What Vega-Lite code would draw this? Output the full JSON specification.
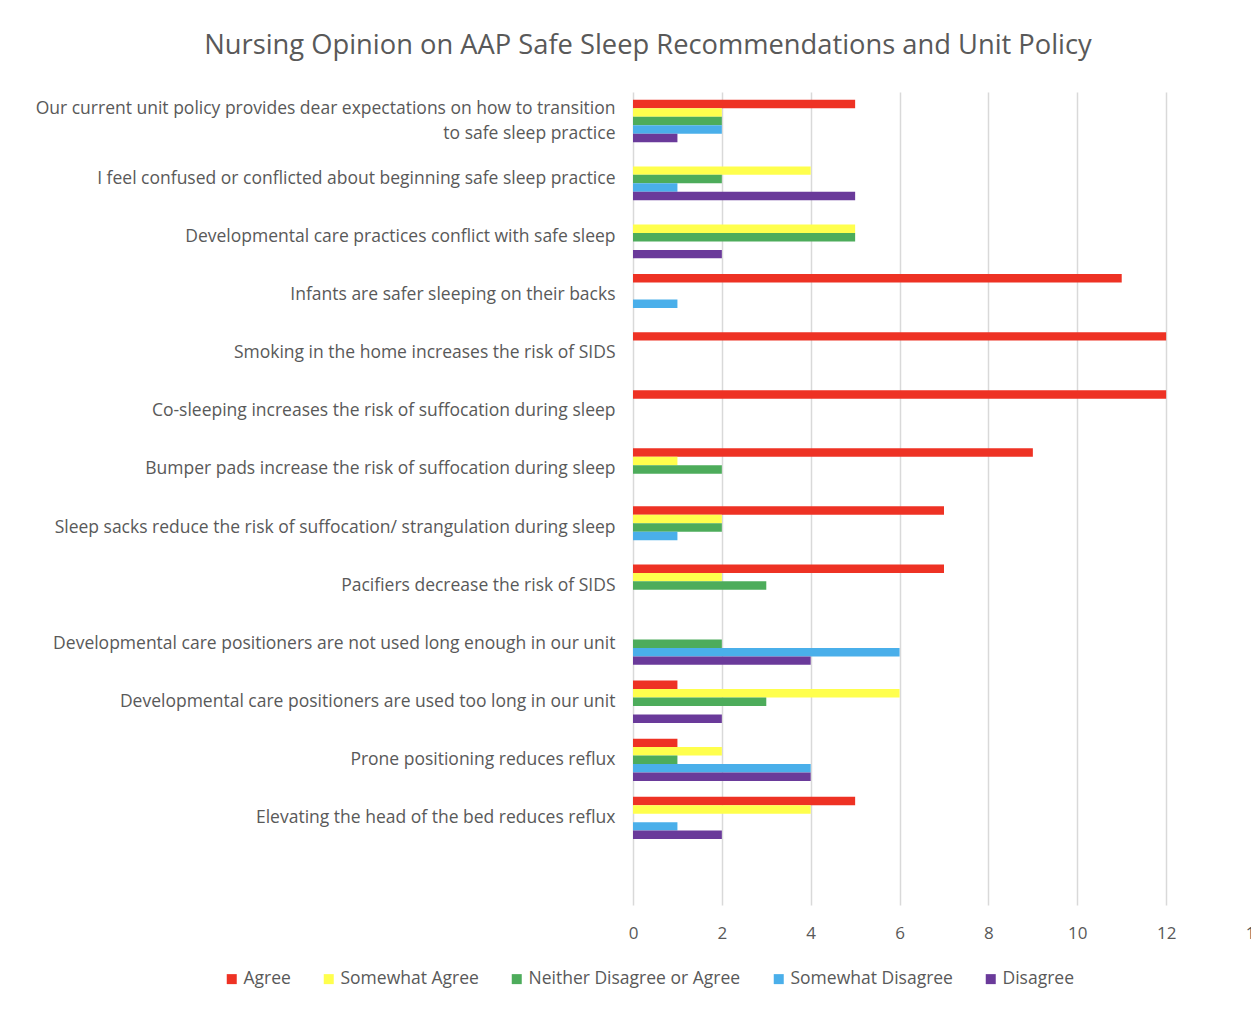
{
  "$schema": "https://vega.github.io/schema/vega-lite/v6.json",
  "autosize": "none",
  "width": 622,
  "height": 813,
  "padding": {"left": 633, "top": 92, "right": 0, "bottom": 104},
  "background": "white",
  "config": {
    "font": "Open Sans",
    "view": {"stroke": null}
  },
  "title": {
    "text": "Nursing Opinion on AAP Safe Sleep Recommendations and Unit Policy",
    "anchor": "middle",
    "frame": "group",
    "dx": -296,
    "offset": 33,
    "fontSize": 27.3,
    "fontWeight": "normal",
    "color": "#595959",
    "font": "Open Sans"
  },
  "data": {
    "values": [
      {"q": "Our current unit policy provides dear expectations on how to transition to safe sleep practice", "r": "Agree", "n": 5},
      {"q": "Our current unit policy provides dear expectations on how to transition to safe sleep practice", "r": "Somewhat Agree", "n": 2},
      {"q": "Our current unit policy provides dear expectations on how to transition to safe sleep practice", "r": "Neither Disagree or Agree", "n": 2},
      {"q": "Our current unit policy provides dear expectations on how to transition to safe sleep practice", "r": "Somewhat Disagree", "n": 2},
      {"q": "Our current unit policy provides dear expectations on how to transition to safe sleep practice", "r": "Disagree", "n": 1},
      {"q": "I feel confused or conflicted about beginning safe sleep practice", "r": "Agree", "n": 0},
      {"q": "I feel confused or conflicted about beginning safe sleep practice", "r": "Somewhat Agree", "n": 4},
      {"q": "I feel confused or conflicted about beginning safe sleep practice", "r": "Neither Disagree or Agree", "n": 2},
      {"q": "I feel confused or conflicted about beginning safe sleep practice", "r": "Somewhat Disagree", "n": 1},
      {"q": "I feel confused or conflicted about beginning safe sleep practice", "r": "Disagree", "n": 5},
      {"q": "Developmental care practices conflict with safe sleep", "r": "Agree", "n": 0},
      {"q": "Developmental care practices conflict with safe sleep", "r": "Somewhat Agree", "n": 5},
      {"q": "Developmental care practices conflict with safe sleep", "r": "Neither Disagree or Agree", "n": 5},
      {"q": "Developmental care practices conflict with safe sleep", "r": "Somewhat Disagree", "n": 0},
      {"q": "Developmental care practices conflict with safe sleep", "r": "Disagree", "n": 2},
      {"q": "Infants are safer sleeping on their backs", "r": "Agree", "n": 11},
      {"q": "Infants are safer sleeping on their backs", "r": "Somewhat Agree", "n": 0},
      {"q": "Infants are safer sleeping on their backs", "r": "Neither Disagree or Agree", "n": 0},
      {"q": "Infants are safer sleeping on their backs", "r": "Somewhat Disagree", "n": 1},
      {"q": "Infants are safer sleeping on their backs", "r": "Disagree", "n": 0},
      {"q": "Smoking in the home increases the risk of SIDS", "r": "Agree", "n": 12},
      {"q": "Smoking in the home increases the risk of SIDS", "r": "Somewhat Agree", "n": 0},
      {"q": "Smoking in the home increases the risk of SIDS", "r": "Neither Disagree or Agree", "n": 0},
      {"q": "Smoking in the home increases the risk of SIDS", "r": "Somewhat Disagree", "n": 0},
      {"q": "Smoking in the home increases the risk of SIDS", "r": "Disagree", "n": 0},
      {"q": "Co-sleeping increases the risk of suffocation during sleep", "r": "Agree", "n": 12},
      {"q": "Co-sleeping increases the risk of suffocation during sleep", "r": "Somewhat Agree", "n": 0},
      {"q": "Co-sleeping increases the risk of suffocation during sleep", "r": "Neither Disagree or Agree", "n": 0},
      {"q": "Co-sleeping increases the risk of suffocation during sleep", "r": "Somewhat Disagree", "n": 0},
      {"q": "Co-sleeping increases the risk of suffocation during sleep", "r": "Disagree", "n": 0},
      {"q": "Bumper pads increase the risk of suffocation during sleep", "r": "Agree", "n": 9},
      {"q": "Bumper pads increase the risk of suffocation during sleep", "r": "Somewhat Agree", "n": 1},
      {"q": "Bumper pads increase the risk of suffocation during sleep", "r": "Neither Disagree or Agree", "n": 2},
      {"q": "Bumper pads increase the risk of suffocation during sleep", "r": "Somewhat Disagree", "n": 0},
      {"q": "Bumper pads increase the risk of suffocation during sleep", "r": "Disagree", "n": 0},
      {"q": "Sleep sacks reduce the risk of suffocation/ strangulation during sleep", "r": "Agree", "n": 7},
      {"q": "Sleep sacks reduce the risk of suffocation/ strangulation during sleep", "r": "Somewhat Agree", "n": 2},
      {"q": "Sleep sacks reduce the risk of suffocation/ strangulation during sleep", "r": "Neither Disagree or Agree", "n": 2},
      {"q": "Sleep sacks reduce the risk of suffocation/ strangulation during sleep", "r": "Somewhat Disagree", "n": 1},
      {"q": "Sleep sacks reduce the risk of suffocation/ strangulation during sleep", "r": "Disagree", "n": 0},
      {"q": "Pacifiers decrease the risk of SIDS", "r": "Agree", "n": 7},
      {"q": "Pacifiers decrease the risk of SIDS", "r": "Somewhat Agree", "n": 2},
      {"q": "Pacifiers decrease the risk of SIDS", "r": "Neither Disagree or Agree", "n": 3},
      {"q": "Pacifiers decrease the risk of SIDS", "r": "Somewhat Disagree", "n": 0},
      {"q": "Pacifiers decrease the risk of SIDS", "r": "Disagree", "n": 0},
      {"q": "Developmental care positioners are not used long enough in our unit", "r": "Agree", "n": 0},
      {"q": "Developmental care positioners are not used long enough in our unit", "r": "Somewhat Agree", "n": 0},
      {"q": "Developmental care positioners are not used long enough in our unit", "r": "Neither Disagree or Agree", "n": 2},
      {"q": "Developmental care positioners are not used long enough in our unit", "r": "Somewhat Disagree", "n": 6},
      {"q": "Developmental care positioners are not used long enough in our unit", "r": "Disagree", "n": 4},
      {"q": "Developmental care positioners are used too long in our unit", "r": "Agree", "n": 1},
      {"q": "Developmental care positioners are used too long in our unit", "r": "Somewhat Agree", "n": 6},
      {"q": "Developmental care positioners are used too long in our unit", "r": "Neither Disagree or Agree", "n": 3},
      {"q": "Developmental care positioners are used too long in our unit", "r": "Somewhat Disagree", "n": 0},
      {"q": "Developmental care positioners are used too long in our unit", "r": "Disagree", "n": 2},
      {"q": "Prone positioning reduces reflux", "r": "Agree", "n": 1},
      {"q": "Prone positioning reduces reflux", "r": "Somewhat Agree", "n": 2},
      {"q": "Prone positioning reduces reflux", "r": "Neither Disagree or Agree", "n": 1},
      {"q": "Prone positioning reduces reflux", "r": "Somewhat Disagree", "n": 4},
      {"q": "Prone positioning reduces reflux", "r": "Disagree", "n": 4},
      {"q": "Elevating the head of the bed reduces reflux", "r": "Agree", "n": 5},
      {"q": "Elevating the head of the bed reduces reflux", "r": "Somewhat Agree", "n": 4},
      {"q": "Elevating the head of the bed reduces reflux", "r": "Neither Disagree or Agree", "n": 0},
      {"q": "Elevating the head of the bed reduces reflux", "r": "Somewhat Disagree", "n": 1},
      {"q": "Elevating the head of the bed reduces reflux", "r": "Disagree", "n": 2}
    ]
  },
  "mark": {"type": "bar", "cornerRadius": 0},
  "encoding": {
    "y": {
      "field": "q",
      "type": "nominal",
      "scale": {
        "domain": [
          "Our current unit policy provides dear expectations on how to transition to safe sleep practice",
          "I feel confused or conflicted about beginning safe sleep practice",
          "Developmental care practices conflict with safe sleep",
          "Infants are safer sleeping on their backs",
          "Smoking in the home increases the risk of SIDS",
          "Co-sleeping increases the risk of suffocation during sleep",
          "Bumper pads increase the risk of suffocation during sleep",
          "Sleep sacks reduce the risk of suffocation/ strangulation during sleep",
          "Pacifiers decrease the risk of SIDS",
          "Developmental care positioners are not used long enough in our unit",
          "Developmental care positioners are used too long in our unit",
          "Prone positioning reduces reflux",
          "Elevating the head of the bed reduces reflux",
          " "
        ],
        "paddingInner": 0.27,
        "paddingOuter": 0.135
      },
      "axis": {
        "title": null,
        "ticks": false,
        "domain": false,
        "labelPadding": 18,
        "labelFontSize": 17.5,
        "labelColor": "#595959",
        "labelLimit": 700,
        "labelLineHeight": 25,
        "labelOffset": {"condition": {"test": "indexof(datum.value, 'Our current') == 0", "value": -12}, "value": 0},
        "labelExpr": "datum.label == 'Our current unit policy provides dear expectations on how to transition to safe sleep practice' ? ['Our current unit policy provides dear expectations on how to transition', 'to safe sleep practice'] : datum.label"
      }
    },
    "yOffset": {
      "field": "r",
      "type": "nominal",
      "sort": ["Agree", "Somewhat Agree", "Neither Disagree or Agree", "Somewhat Disagree", "Disagree"],
      "scale": {"paddingInner": 0, "paddingOuter": 0}
    },
    "x": {
      "field": "n",
      "type": "quantitative",
      "scale": {"domain": [0, 14], "nice": false},
      "axis": {
        "title": null,
        "values": [0, 2, 4, 6, 8, 10, 12, 14],
        "ticks": false,
        "domain": false,
        "grid": true,
        "gridColor": "#d9d9d9",
        "gridWidth": 1.5,
        "labelFlush": false,
        "labelPadding": 20,
        "labelFontSize": 17,
        "labelColor": "#595959"
      }
    },
    "color": {
      "field": "r",
      "type": "nominal",
      "sort": ["Agree", "Somewhat Agree", "Neither Disagree or Agree", "Somewhat Disagree", "Disagree"],
      "scale": {
        "domain": ["Agree", "Somewhat Agree", "Neither Disagree or Agree", "Somewhat Disagree", "Disagree"],
        "range": ["#EE3224", "#FFFF4D", "#4DAC5B", "#4AAFEA", "#6A3A9A"]
      },
      "legend": {
        "title": null,
        "orient": "none",
        "direction": "horizontal",
        "legendX": -410,
        "legendY": 878,
        "symbolType": "square",
        "symbolSize": 100,
        "symbolStrokeWidth": 0,
        "labelFontSize": 17.5,
        "labelColor": "#595959",
        "labelOffset": 3,
        "columnPadding": 29,
        "labelLimit": 400
      }
    }
  }
}
